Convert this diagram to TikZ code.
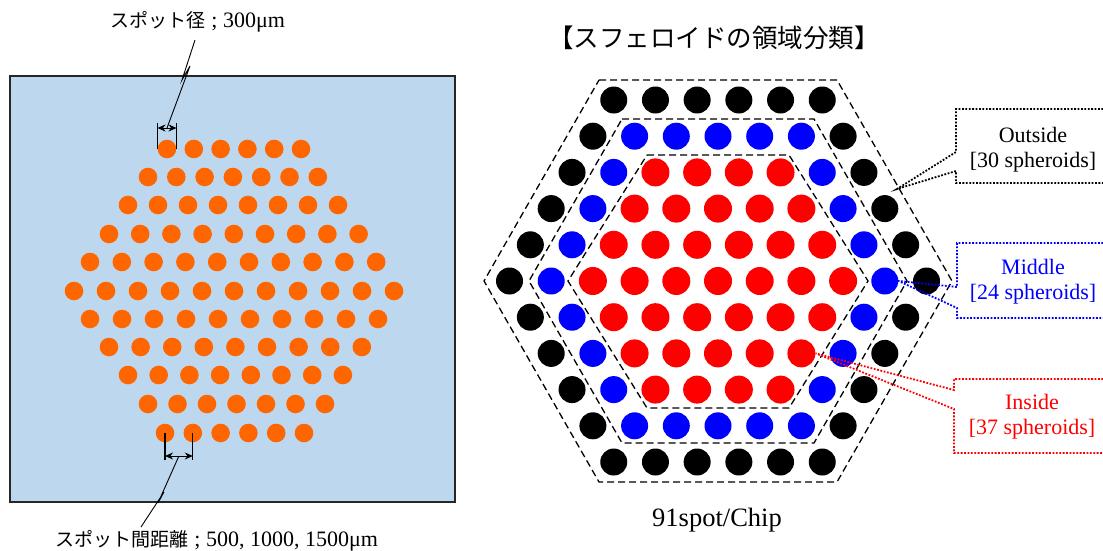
\documentclass[tikz,border=0pt]{standalone}
\usepackage{fontspec}
\setmainfont{Liberation Serif}
\newfontfamily\jpfont{Noto Sans CJK JP}
\usetikzlibrary{arrows.meta}
\definecolor{bgblue}{HTML}{BDD7EE}
\definecolor{dotorange}{HTML}{FF6600}
\tikzset{
  odot/.style={circle,fill=dotorange,inner sep=0pt,minimum size=18.6pt},
  ring0/.style={circle,fill=black,inner sep=0pt,minimum size=27pt},
  ring1/.style={circle,fill=blue,inner sep=0pt,minimum size=27pt},
  ring2/.style={circle,fill=red,inner sep=0pt,minimum size=28pt},
  hexline/.style={draw=black,line width=1.3pt,dash pattern=on 7pt off 4pt},
  callout/.style={line width=1.8pt,dash pattern=on 1.8pt off 1.6pt},
  dimbar/.style={draw=black,line width=1.2pt},
  dimarrow/.style={line width=1pt,{Stealth[length=8pt,width=7pt]}-{Stealth[length=8pt,width=7pt]}},
  leader/.style={draw=black,line width=0.9pt},
  lbl/.style={inner sep=0pt,font=\fontsize{22}{25}\selectfont},
}
\begin{document}
\begin{tikzpicture}[x=1pt,y=-1pt]
\useasboundingbox (0,0) rectangle (1103,551);

% ---------- left panel ----------
\draw[fill=bgblue,draw=black!85,line width=1.5pt] (10,76) rectangle (455,502);
\foreach \r/\y/\xa/\dx/\n in {1/149/167/26.8/6, 2/177/148/28.3/7, 3/205/128/30.0/8,
   4/234/109/31.2/9, 5/262/90/31.8/10, 6/291/74/32.0/11, 7/319/90/32.0/10,
   8/347/109/31.6/9, 9/375/128/30.7/8, 10/404/148/29.5/7, 11/433/165/27.8/6}{
  \foreach \i in {1,...,\n}{
    \node[odot] (L\r-\i) at ({\xa+(\i-1)*\dx},\y) {};
  }
}

% top dimension (spot diameter)
\coordinate (tl) at ([yshift=26pt]L1-1.west);
\coordinate (tr) at ([yshift=26pt]L1-1.east);
\draw[dimbar] (L1-1.west) -- (tl);
\draw[dimbar] (L1-1.east) -- (tr);
\draw[dimarrow] ([yshift=-5pt]tl) -- coordinate (tmid) ([yshift=-5pt]tr);
\node[lbl,anchor=center] (lab1) at (198,22) {{\jpfont\fontsize{19}{22}\selectfont スポット径} ; 300μm};
\coordinate (ta) at (195,40);
\draw[leader] (ta) -- (182,80) -- (190,66) -- (tmid);

% bottom dimension (spot pitch)
\coordinate (bl) at ([yshift=-27pt]L11-1.center);
\coordinate (br) at ([yshift=-27pt]L11-2.center);
\draw[dimbar] (L11-1.center) -- (bl);
\draw[dimbar] (L11-2.center) -- (br);
\draw[dimarrow] ([yshift=4pt]bl) -- coordinate (bmid) ([yshift=4pt]br);
\node[lbl,anchor=center] (lab2) at (217,541) {{\jpfont\fontsize{19}{22}\selectfont スポット間距離} ; 500, 1000, 1500μm};
\coordinate (ba) at (141,527);
\draw[leader] (bmid) -- (158,503) -- (164,492) -- (ba);

% ---------- right panel ----------
\node[inner sep=0pt,font=\jpfont\fontsize{25.5}{28}\selectfont] (title) at (714,38) {【スフェロイドの領域分類】};

\draw[hexline] (599,80) -- (837,80) -- (952,281) -- (837,482) -- (599,482) -- (484,281) -- cycle;
\draw[hexline] (622,119) -- (814,119) -- (907,281) -- (814,443) -- (622,443) -- (529,281) -- cycle;
\draw[hexline] (647,155) -- (789,155) -- (868,281) -- (789,408) -- (647,408) -- (568,281) -- cycle;

\foreach \r in {0,...,10}{
  \pgfmathtruncatemacro{\n}{11-abs(\r-5)}
  \pgfmathtruncatemacro{\last}{\n-1}
  \foreach \i in {0,...,\last}{
    \pgfmathtruncatemacro{\ring}{min(\r,10-\r,\i,\n-1-\i,2)}
    \node[ring\ring] (R\r-\i) at ({718+(\i-(\n-1)/2)*41.7},{281+(\r-5)*36.2}) {};
  }
}

\node[inner sep=0pt,font=\fontsize{26.5}{30}\selectfont] (chip) at (717,520) {91spot/Chip};

% callouts
\node[lbl,align=center,text=black] (out) at (1033,150) {Outside\\{[}30 spheroids{]}};
\draw[callout,draw=black] (1110,109) -- (956,109) -- (956,152) -- (897,189) -- (956,171) -- (956,183) -- (1110,183);

\node[lbl,align=center,text=blue] (mid) at (1033,282) {Middle\\{[}24 spheroids{]}};
\draw[callout,draw=blue] (1110,243) -- (957,243) -- (957,287) -- (R5-9.east) -- (957,308) -- (957,318) -- (1110,318);

\node[lbl,align=center,text=red] (ins) at (1032,417) {Inside\\{[}37 spheroids{]}};
\draw[callout,draw=red] (1110,379) -- (954,379) -- (954,390) -- (R7-6.east) -- (954,409) -- (954,453) -- (1110,453);
\end{tikzpicture}
\end{document}
